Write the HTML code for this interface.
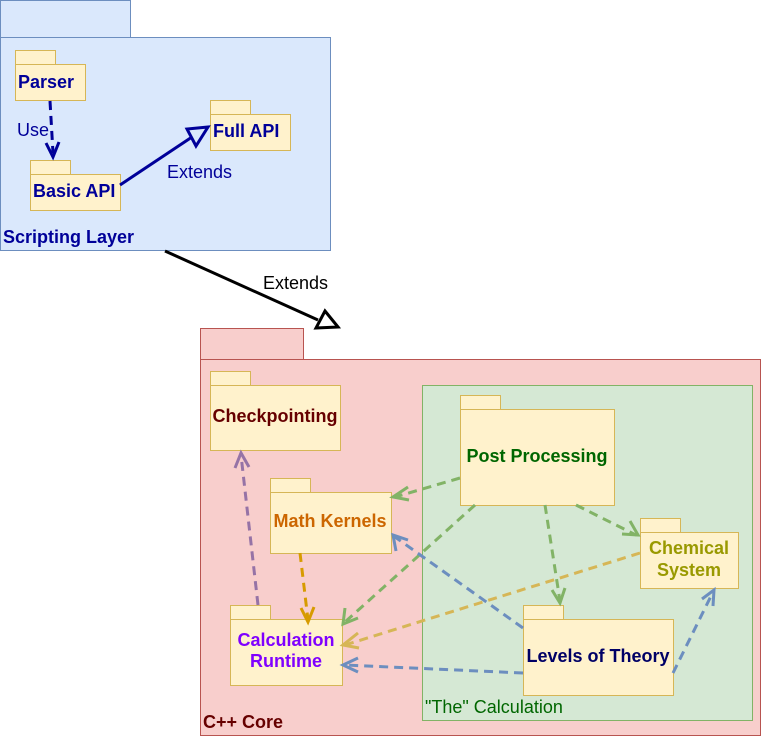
<!DOCTYPE html>
<html><head><meta charset="utf-8"><style>
html,body{margin:0;padding:0;background:#fff;}
svg{display:block;font-family:"Liberation Sans",sans-serif;}
.b{font-weight:bold;font-size:18px;}
.r{font-size:18px;}
</style></head><body>
<svg width="761" height="736" viewBox="0 0 761 736" xmlns="http://www.w3.org/2000/svg">
<!-- Scripting layer -->
<rect x="0.5" y="0.5" width="130" height="37" fill="#dae8fc" stroke="#6c8ebf"/>
<rect x="0.5" y="37.5" width="330" height="213" fill="#dae8fc" stroke="#6c8ebf"/>
<text x="3" y="243" class="b" fill="#000099">Scripting Layer</text>

<g fill="#fff2cc" stroke="#d6b656">
<rect x="15.5" y="50.5" width="40" height="14"/><rect x="15.5" y="64.5" width="70" height="36"/>
<rect x="210.5" y="100.5" width="40" height="14"/><rect x="210.5" y="114.5" width="80" height="36"/>
<rect x="30.5" y="160.5" width="40" height="14"/><rect x="30.5" y="174.5" width="90" height="36"/>
</g>
<text x="18" y="88" class="b" fill="#000099">Parser</text>
<text x="213" y="137" class="b" fill="#000099">Full API</text>
<text x="33" y="197" class="b" fill="#000099">Basic API</text>

<path d="M50 101 L53 153" stroke="#000099" stroke-width="3" stroke-dasharray="9 6" fill="none"/>
<path d="M46 143 L53 157 L59 142" stroke="#000099" stroke-width="3" fill="none"/>
<text x="17" y="136" class="r" fill="#000099">Use</text>

<path d="M120 185 L192 137" stroke="#000099" stroke-width="3" fill="none"/>
<path d="M208 127 L187 129 L196 146 Z" stroke="#000099" stroke-width="3" fill="none"/>
<text x="167" y="178" class="r" fill="#000099">Extends</text>

<path d="M165 251 L318 320" stroke="#000" stroke-width="3" fill="none"/>
<path d="M338 327 L325 311 L316 328 Z" stroke="#000" stroke-width="3" fill="#fff"/>
<text x="263" y="289" class="r" fill="#000">Extends</text>

<!-- C++ core -->
<rect x="200.5" y="328.5" width="103" height="31" fill="#f8cecc" stroke="#b85450"/>
<rect x="200.5" y="359.5" width="560" height="376" fill="#f8cecc" stroke="#b85450"/>
<text x="203" y="728" class="b" fill="#660000">C++ Core</text>
<rect x="422.5" y="385.5" width="330" height="335" fill="#d5e8d4" stroke="#82b366"/>
<text x="425" y="713" class="r" fill="#006600">"The" Calculation</text>

<g fill="#fff2cc" stroke="#d6b656">
<rect x="210.5" y="371.5" width="40" height="14"/><rect x="210.5" y="385.5" width="130" height="65"/>
<rect x="270.5" y="478.5" width="40" height="14"/><rect x="270.5" y="492.5" width="121" height="61"/>
<rect x="230.5" y="605.5" width="40" height="14"/><rect x="230.5" y="619.5" width="112" height="66"/>
<rect x="460.5" y="395.5" width="40" height="14"/><rect x="460.5" y="409.5" width="154" height="96"/>
<rect x="640.5" y="518.5" width="40" height="14"/><rect x="640.5" y="532.5" width="98" height="56"/>
<rect x="523.5" y="605.5" width="40" height="14"/><rect x="523.5" y="619.5" width="150" height="76"/>
</g>
<g class="b" text-anchor="middle">
<text x="275" y="422" fill="#660000">Checkpointing</text>
<text x="330" y="527" fill="#CC6600">Math Kernels</text>
<text x="286" y="646" fill="#7F00FF">Calculation</text>
<text x="286" y="667" fill="#7F00FF">Runtime</text>
<text x="537" y="462" fill="#006600">Post Processing</text>
<text x="689" y="554" fill="#999900">Chemical</text>
<text x="689" y="576" fill="#999900">System</text>
<text x="598" y="662" fill="#000066">Levels of Theory</text>
</g>

<g fill="none" stroke-width="3" stroke-dasharray="9 6">
<path d="M258 605 L241 455" stroke="#9673a6"/>
<path d="M300 553 L308 620" stroke="#d79b00"/>
<path d="M460 478 L395 497" stroke="#82b366"/>
<path d="M475 505 L345 622" stroke="#82b366"/>
<path d="M545 505 L560 601" stroke="#82b366"/>
<path d="M576 505 L636 535" stroke="#82b366"/>
<path d="M640 553 L345 645" stroke="#d6b656"/>
<path d="M523 628 L395 537" stroke="#6c8ebf"/>
<path d="M523 673 L345 665" stroke="#6c8ebf"/>
<path d="M673 673 L713 592" stroke="#6c8ebf"/>
</g>
<g fill="none" stroke-width="3">
<path d="M235 468 L241 453 L249 467" stroke="#9673a6"/>
<path d="M301 608 L308 622 L314 607" stroke="#d79b00"/>
<path d="M408 487 L393 497 L409 500" stroke="#82b366"/>
<path d="M345 608 L343 624 L358 618" stroke="#82b366"/>
<path d="M552 590 L560 603 L565 588" stroke="#82b366"/>
<path d="M622 534 L638 535 L630 521" stroke="#82b366"/>
<path d="M358 633 L343 645 L359 648" stroke="#d6b656"/>
<path d="M396 551 L393 535 L408 540" stroke="#6c8ebf"/>
<path d="M358 658 L343 665 L358 672" stroke="#6c8ebf"/>
<path d="M702 599 L714 590 L713 606" stroke="#6c8ebf"/>
</g>
</svg>
</body></html>
